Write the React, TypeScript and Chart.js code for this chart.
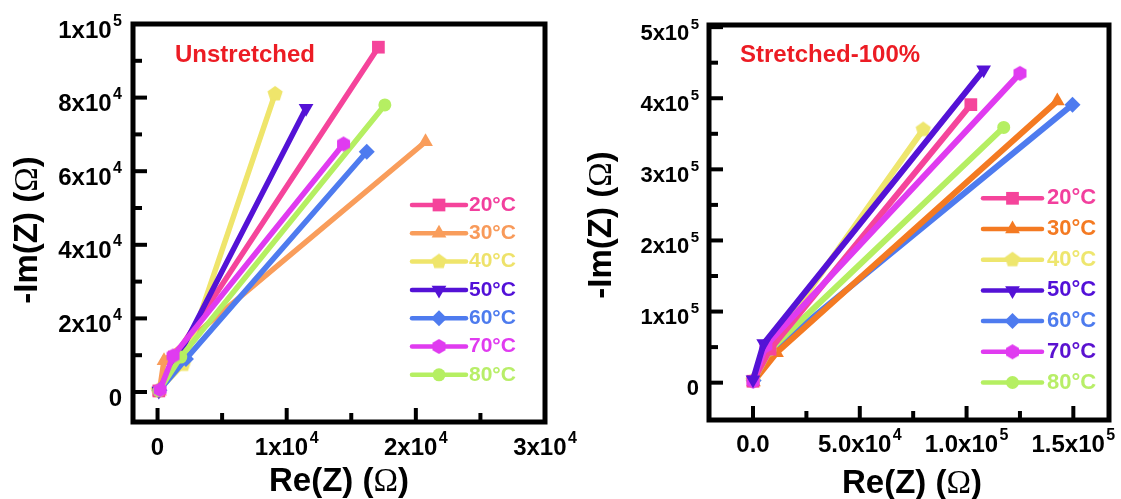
import React, { useEffect, useRef } from 'react';
import { Chart, registerables } from 'chart.js';
import { drawPoint } from 'chart.js/helpers';

Chart.register(...registerables);

const FONT = '"Liberation Sans", Arial, Helvetica, sans-serif';
const SERIF = '"Liberation Serif", "Times New Roman", serif';

const temperatures = ['20°C', '30°C', '40°C', '50°C', '60°C', '70°C', '80°C'];
const markerKinds = ['rect', 'triangle', 'pentagon', 'triangleDown', 'rectRot', 'hexagon', 'circle'];

const unstretchedColors = ['#F5449B', '#F99D5B', '#EFE56B', '#5412D6', '#4E7BEF', '#E03BF0', '#B5EF62'];
const unstretchedTextColors = ['#F23F9D', '#F89A5A', '#EEE26A', '#5210D8', '#4D7BEE', '#E03BF0', '#B8EE68'];
const stretchedColors = ['#F5449B', '#F47A22', '#EEE66E', '#5412D6', '#4E7BEF', '#E03BF0', '#B5EF62'];
const stretchedTextColors = ['#F23F9D', '#F47A22', '#EEE66E', '#5210D8', '#4D7BEE', '#5A12D0', '#B8EE68'];

// Unstretched panel: three points per series (start, knee, end)
const unStartRe = [100, 150, 50, 100, 150, 200, 100];
const unStartIm = [300, 200, 400, 300, 500, 600, 300];
const unKneeRe = [1300, 500, 2000, 1500, 2200, 1200, 1800];
const unKneeIm = [9500, 8500, 7500, 9000, 9000, 9800, 9500];
const unEndRe = [17100, 20750, 9100, 11500, 16200, 14400, 17600];
const unEndIm = [93700, 68000, 81000, 77100, 65300, 67400, 78000];

// Stretched-100% panel
const stStartRe = [0, 200, 0, 0, 300, 0, 100];
const stStartIm = [2000, 1000, 3000, 4000, 3000, 2000, 2000];
const stKneeRe = [8000, 11000, 7000, 5000, 9000, 6000, 8000];
const stKneeIm = [47000, 42000, 48000, 55000, 45000, 52000, 46000];
const stEndRe = [102000, 142500, 79700, 108000, 149600, 125000, 117400];
const stEndIm = [391000, 396000, 356000, 440000, 391000, 435000, 359000];

// Tick labels (major ticks); minor ticks fall halfway between
const unReTickValues = [0, 10000, 20000, 30000];
const unReTickLabels = ['0', '1x10⁴', '2x10⁴', '3x10⁴'];
const unImTickValues = [0, 20000, 40000, 60000, 80000, 100000];
const unImTickLabels = ['0', '2x10⁴', '4x10⁴', '6x10⁴', '8x10⁴', '1x10⁵'];
const stReTickValues = [0, 50000, 100000, 150000];
const stReTickLabels = ['0.0', '5.0x10⁴', '1.0x10⁵', '1.5x10⁵'];
const stImTickValues = [0, 100000, 200000, 300000, 400000, 500000];
const stImTickLabels = ['0', '1x10⁵', '2x10⁵', '3x10⁵', '4x10⁵', '5x10⁵'];

function withMinor(major: number[]) {
  const out: number[] = [];
  for (let i = 0; i < major.length; i++) {
    out.push(major[i]);
    if (i < major.length - 1) out.push((major[i] + major[i + 1]) / 2);
  }
  return out;
}

function polygonCanvas(sides: number, r: number, color: string) {
  const c = document.createElement('canvas');
  const s = Math.ceil(2 * r + 2);
  c.width = s;
  c.height = s;
  const g = c.getContext('2d')!;
  g.fillStyle = color;
  g.beginPath();
  for (let i = 0; i < sides; i++) {
    const a = -Math.PI / 2 + (i * 2 * Math.PI) / sides;
    g.lineTo(s / 2 + r * Math.cos(a), s / 2 + r * Math.sin(a));
  }
  g.closePath();
  g.fill();
  return c;
}

function markerOptions(kind: string, color: string) {
  switch (kind) {
    case 'rect':
      return { pointStyle: 'rect', radius: 9, rotation: 0 };
    case 'triangle':
      return { pointStyle: 'triangle', radius: 8.5, rotation: 0 };
    case 'triangleDown':
      return { pointStyle: 'triangle', radius: 8.5, rotation: 180 };
    case 'rectRot':
      return { pointStyle: 'rectRot', radius: 8, rotation: 0 };
    case 'pentagon':
      return { pointStyle: polygonCanvas(5, 8, color) as any, radius: 8, rotation: 0 };
    case 'hexagon':
      return { pointStyle: polygonCanvas(6, 7.5, color) as any, radius: 7.5, rotation: 0 };
    default:
      return { pointStyle: 'circle', radius: 6.5, rotation: 0 };
  }
}

function buildDatasets(
  sRe: number[], sIm: number[], kRe: number[], kIm: number[], eRe: number[], eIm: number[],
  colors: string[], order: number[], lineWidth: number
) {
  return temperatures.map((t, i) => {
    const m = markerOptions(markerKinds[i], colors[i]);
    return {
      label: t,
      data: [
        { x: sRe[i], y: sIm[i] },
        { x: kRe[i], y: kIm[i] },
        { x: eRe[i], y: eIm[i] },
      ],
      showLine: true,
      borderColor: colors[i],
      backgroundColor: colors[i],
      borderWidth: lineWidth,
      pointStyle: m.pointStyle,
      pointRadius: m.radius,
      pointRotation: m.rotation,
      pointBorderWidth: 0,
      pointBackgroundColor: colors[i],
      order: order[i],
    };
  });
}

// draws "<prefix> (" + Ω (thin serif) + ")" centred at origin of current transform
function drawOhmTitle(ctx: CanvasRenderingContext2D, prefix: string, size: number) {
  const parts = [
    { t: prefix + ' (', f: `bold ${size}px ${FONT}` },
    { t: 'Ω', f: `${size}px ${SERIF}` },
    { t: ')', f: `bold ${size}px ${FONT}` },
  ];
  let total = 0;
  const widths = parts.map((p) => {
    ctx.font = p.f;
    const w = ctx.measureText(p.t).width;
    total += w;
    return w;
  });
  let x = -total / 2;
  ctx.textAlign = 'left';
  ctx.textBaseline = 'middle';
  parts.forEach((p, i) => {
    ctx.font = p.f;
    ctx.fillText(p.t, x, 0);
    x += widths[i];
  });
}

const SUP = '⁰¹²³⁴⁵⁶⁷⁸⁹';
function drawSci(ctx: CanvasRenderingContext2D, label: string, x: number, cy: number,
  align: 'right' | 'center', size: number) {
  let base = '';
  let exp = '';
  for (const ch of label) {
    const k = SUP.indexOf(ch);
    if (k >= 0) exp += String(k);
    else base += ch;
  }
  const fb = `bold ${size}px ${FONT}`;
  const fe = `bold ${Math.round(size * 0.68)}px ${FONT}`;
  const gap = exp ? size * 0.06 : 0;
  ctx.font = fb;
  const wb = ctx.measureText(base).width;
  ctx.font = fe;
  const we = exp ? ctx.measureText(exp).width : 0;
  const total = wb + gap + we;
  const sx = align === 'right' ? x - total : x - total / 2;
  const baseline = cy + size * 0.36;
  ctx.textAlign = 'left';
  ctx.textBaseline = 'alphabetic';
  ctx.font = fb;
  ctx.fillText(base, sx, baseline);
  if (exp) {
    ctx.font = fe;
    ctx.fillText(exp, sx + wb + gap, baseline - size * 0.5);
  }
}

const decorPlugin = {
  id: 'decor',
  afterDraw(chart: any, _args: any, o: any) {
    const { ctx, chartArea: a, scales } = chart;
    const xs = scales.x;
    const ys = scales.y;
    ctx.save();
    // frame
    ctx.strokeStyle = '#000';
    ctx.lineWidth = o.frameWidth;
    ctx.strokeRect(a.left, a.top, a.right - a.left, a.bottom - a.top);
    // inward ticks
    ctx.lineWidth = o.tickWidth;
    ctx.lineCap = 'butt';
    const isMajor = (vals: number[], v: number) => vals.some((t) => Math.abs(t - v) < 1e-6);
    xs.ticks.forEach((t: any) => {
      const px = xs.getPixelForValue(t.value);
      if (px < a.left + 2 || px > a.right - 2) return;
      const len = isMajor(o.xMajor, t.value) ? o.majorLen : o.minorLen;
      ctx.beginPath();
      ctx.moveTo(px, a.bottom);
      ctx.lineTo(px, a.bottom - len);
      ctx.stroke();
    });
    ys.ticks.forEach((t: any) => {
      const py = ys.getPixelForValue(t.value);
      if (py < a.top + 2 || py > a.bottom - 2) return;
      const len = isMajor(o.yMajor, t.value) ? o.majorLen : o.minorLen;
      ctx.beginPath();
      ctx.moveTo(a.left, py);
      ctx.lineTo(a.left + len, py);
      ctx.stroke();
    });
    // tick labels
    ctx.fillStyle = '#000';
    o.xMajor.forEach((v: number, i: number) => {
      drawSci(ctx, o.xLabels[i], xs.getPixelForValue(v), o.xLabelY, 'center', o.xTickFont);
    });
    o.yMajor.forEach((v: number, i: number) => {
      drawSci(ctx, o.yLabels[i], o.yLabelRight, ys.getPixelForValue(v) + o.yLabelOffset, 'right', o.yTickFont);
    });
    // panel label
    ctx.fillStyle = '#EC1C24';
    ctx.font = `bold ${o.panelFont}px ${FONT}`;
    ctx.textBaseline = 'middle';
    ctx.textAlign = 'left';
    ctx.fillText(o.panelText, o.panelX, o.panelY);
    // axis titles
    ctx.fillStyle = '#000';
    ctx.save();
    ctx.translate(o.xTitleX, o.xTitleY);
    drawOhmTitle(ctx, 'Re(Z)', o.titleFont);
    ctx.restore();
    ctx.save();
    ctx.translate(o.yTitleX, o.yTitleY);
    ctx.rotate(-Math.PI / 2);
    drawOhmTitle(ctx, '-Im(Z)', o.titleFont);
    ctx.restore();
    // legend
    chart.data.datasets.forEach((ds: any, i: number) => {
      const y = o.legendY0 + i * o.legendDy;
      ctx.strokeStyle = ds.borderColor;
      ctx.lineWidth = o.legendLine;
      ctx.lineCap = 'round';
      ctx.beginPath();
      ctx.moveTo(o.legendX1, y);
      ctx.lineTo(o.legendX2, y);
      ctx.stroke();
      ctx.fillStyle = ds.borderColor;
      drawPoint(ctx, {
        pointStyle: ds.pointStyle,
        rotation: ds.pointRotation,
        radius: ds.pointRadius,
        borderWidth: 0,
      } as any, (o.legendX1 + o.legendX2) / 2, y);
      ctx.fillStyle = o.legendTextColors[i];
      ctx.font = `bold ${o.legendFont}px ${FONT}`;
      ctx.textAlign = 'left';
      ctx.textBaseline = 'middle';
      ctx.fillText(ds.label, o.legendTextX, y);
    });
    ctx.restore();
  },
};

interface PanelProps {
  left: number;
  width: number;
  datasets: any[];
  xMin: number; xMax: number;
  yMin: number; yMax: number;
  xTicks: number[]; yTicks: number[];
  area: { left: number; top: number; right: number; bottom: number };
  decor: any;
}

function Panel(p: PanelProps) {
  const ref = useRef<HTMLCanvasElement>(null);
  useEffect(() => {
    const canvas = ref.current!;
    const H = 499;
    const chart = new Chart(canvas, {
      type: 'scatter',
      data: { datasets: p.datasets },
      plugins: [decorPlugin],
      options: {
        animation: false,
        responsive: false,
        devicePixelRatio: 1,
        layout: { padding: { left: 0, top: p.area.top, right: p.width - p.area.right, bottom: 0 } },
        plugins: {
          legend: { display: false },
          tooltip: { enabled: false },
          decor: p.decor,
        } as any,
        scales: {
          x: {
            type: 'linear',
            bounds: 'data',
            min: p.xMin,
            max: p.xMax,
            afterBuildTicks: (s: any) => { s.ticks = p.xTicks.map((v) => ({ value: v })); },
            afterFit: (s: any) => {
              s.height = H - p.area.bottom;
              s.paddingLeft = 0; s.paddingRight = 0; s.paddingTop = 0; s.paddingBottom = 0;
            },
            grid: { display: false, drawTicks: false },
            border: { display: false },
            ticks: { display: false },
          },
          y: {
            type: 'linear',
            bounds: 'data',
            min: p.yMin,
            max: p.yMax,
            afterBuildTicks: (s: any) => { s.ticks = p.yTicks.map((v) => ({ value: v })); },
            afterFit: (s: any) => {
              s.width = p.area.left;
              s.paddingLeft = 0; s.paddingRight = 0; s.paddingTop = 0; s.paddingBottom = 0;
            },
            grid: { display: false, drawTicks: false },
            border: { display: false },
            ticks: { display: false },
          },
        },
      } as any,
    });
    return () => chart.destroy();
  }, []);
  return (
    <canvas
      ref={ref}
      width={p.width}
      height={499}
      style={{ position: 'absolute', left: p.left, top: 0, width: p.width, height: 499 }}
    />
  );
}

export default function App() {
  const unDatasets = buildDatasets(unStartRe, unStartIm, unKneeRe, unKneeIm, unEndRe, unEndIm,
    unstretchedColors, [3, 6, 5, 2, 4, 0, 1], 5.5);
  const stDatasets = buildDatasets(stStartRe, stStartIm, stKneeRe, stKneeIm, stEndRe, stEndIm,
    stretchedColors, [2, 5, 3, 0, 6, 1, 4], 6);
  return (
    <div style={{ position: 'fixed', left: 0, top: 0, width: 1121, height: 499, background: '#fff' }}>
      <Panel
        left={0}
        width={600}
        datasets={unDatasets}
        xMin={-1900} xMax={30000}
        yMin={-8150} yMax={100000}
        xTicks={withMinor(unReTickValues)}
        yTicks={withMinor(unImTickValues)}
        area={{ left: 133, top: 24, right: 545, bottom: 422 }}
        decor={{
          frameWidth: 5, tickWidth: 4, majorLen: 14, minorLen: 9,
          xMajor: unReTickValues, xLabels: unReTickLabels, xLabelY: 446.5, xTickFont: 24,
          yMajor: unImTickValues, yLabels: unImTickLabels, yLabelRight: 122, yLabelOffset: 5, yTickFont: 24,
          panelText: 'Unstretched', panelX: 175, panelY: 55, panelFont: 24,
          titleFont: 33,
          xTitleX: 339, xTitleY: 482,
          yTitleX: 28, yTitleY: 230,
          legendX1: 412, legendX2: 466, legendTextX: 469, legendY0: 205, legendDy: 28.3,
          legendLine: 4.5, legendFont: 21, legendTextColors: unstretchedTextColors,
        }}
      />
      <Panel
        left={560}
        width={561}
        datasets={stDatasets}
        xMin={-20610} xMax={166700}
        yMin={-52500} yMax={503000}
        xTicks={withMinor(stReTickValues)}
        yTicks={withMinor(stImTickValues)}
        area={{ left: 149, top: 25, right: 549, bottom: 420 }}
        decor={{
          frameWidth: 5, tickWidth: 4, majorLen: 14, minorLen: 9,
          xMajor: stReTickValues, xLabels: stReTickLabels, xLabelY: 443.5, xTickFont: 24,
          yMajor: stImTickValues, yLabels: stImTickLabels, yLabelRight: 139, yLabelOffset: 4.5, yTickFont: 22,
          panelText: 'Stretched-100%', panelX: 180, panelY: 55, panelFont: 24,
          titleFont: 33,
          xTitleX: 352, xTitleY: 484,
          yTitleX: 42, yTitleY: 225,
          legendX1: 423, legendX2: 482, legendTextX: 487, legendY0: 198.3, legendDy: 30.7,
          legendLine: 4.5, legendFont: 22, legendTextColors: stretchedTextColors,
        }}
      />
    </div>
  );
}
